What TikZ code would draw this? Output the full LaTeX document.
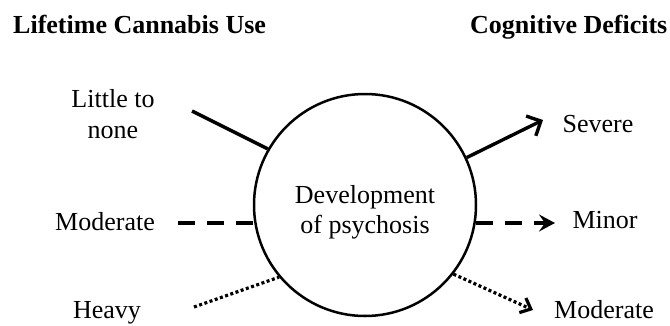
\documentclass[tikz,border=0pt]{standalone}
\usepackage{fontspec}
\setmainfont{Liberation Serif}
\usetikzlibrary{arrows.meta}
\begin{document}
\begin{tikzpicture}[x=1pt,y=-1pt,
  lbl/.style={font=\fontsize{26}{31}\selectfont, inner sep=0pt, anchor=base},
  ttl/.style={font=\fontsize{26}{31}\selectfont\bfseries, inner sep=0pt, anchor=base west},
  solidline/.style={line width=3.4pt},
  dashline/.style={line width=3.4pt, dash pattern=on 17pt off 12pt},
  dotline/.style={line width=3.2pt, dash pattern=on 3pt off 2.5pt},
  sev/.style={-{Straight Barb[length=11pt,width=22pt,line width=3.4pt]}},
  minor/.style={-{Stealth[length=16pt,width=17pt,inset=6pt]}},
  modr/.style={-{Straight Barb[length=9pt,width=16pt,line width=3.2pt]}}]
\useasboundingbox (0,0) rectangle (670,325);
\node[ttl] (t1) at (13,33) {Lifetime Cannabis Use};
\node[ttl] (t2) at (470,33) {Cognitive Deficits};
\node[circle, draw, line width=2.5pt, minimum size=222pt, inner sep=0pt] (psy) at (365,205) {};
\node[lbl] (d1) at (365,203) {Development};
\node[lbl] (d2) at (365,233) {of psychosis};
\node[lbl] (l1) at (113,107) {Little to};
\node[lbl] (l2) at (113,138) {none};
\node[lbl] (l3) at (105,230) {Moderate};
\node[lbl] (l4) at (107,318) {Heavy};
\node[lbl] (r1) at (598,132) {Severe};
\node[lbl] (r2) at (605,228) {Minor};
\node[lbl] (r3) at (604,318) {Moderate};
\coordinate (a1) at (192,111);
\coordinate (a2) at (178,223);
\coordinate (a3) at (194,307);
\coordinate (b1) at (543,120);
\coordinate (b2) at (555,223);
\coordinate (b3) at (533,310);
\draw[solidline] (a1) -- (psy.150);
\draw[dashline] (a2) -- (a2 -| psy.190);
\draw[dotline] (a3) -- (psy.220);
\draw[solidline, sev] (psy.25) -- (b1);
\draw[dashline, minor] (b2 -| psy.-9) -- (b2);
\draw[dotline, modr] (psy.-38) -- (b3);
\end{tikzpicture}
\end{document}
